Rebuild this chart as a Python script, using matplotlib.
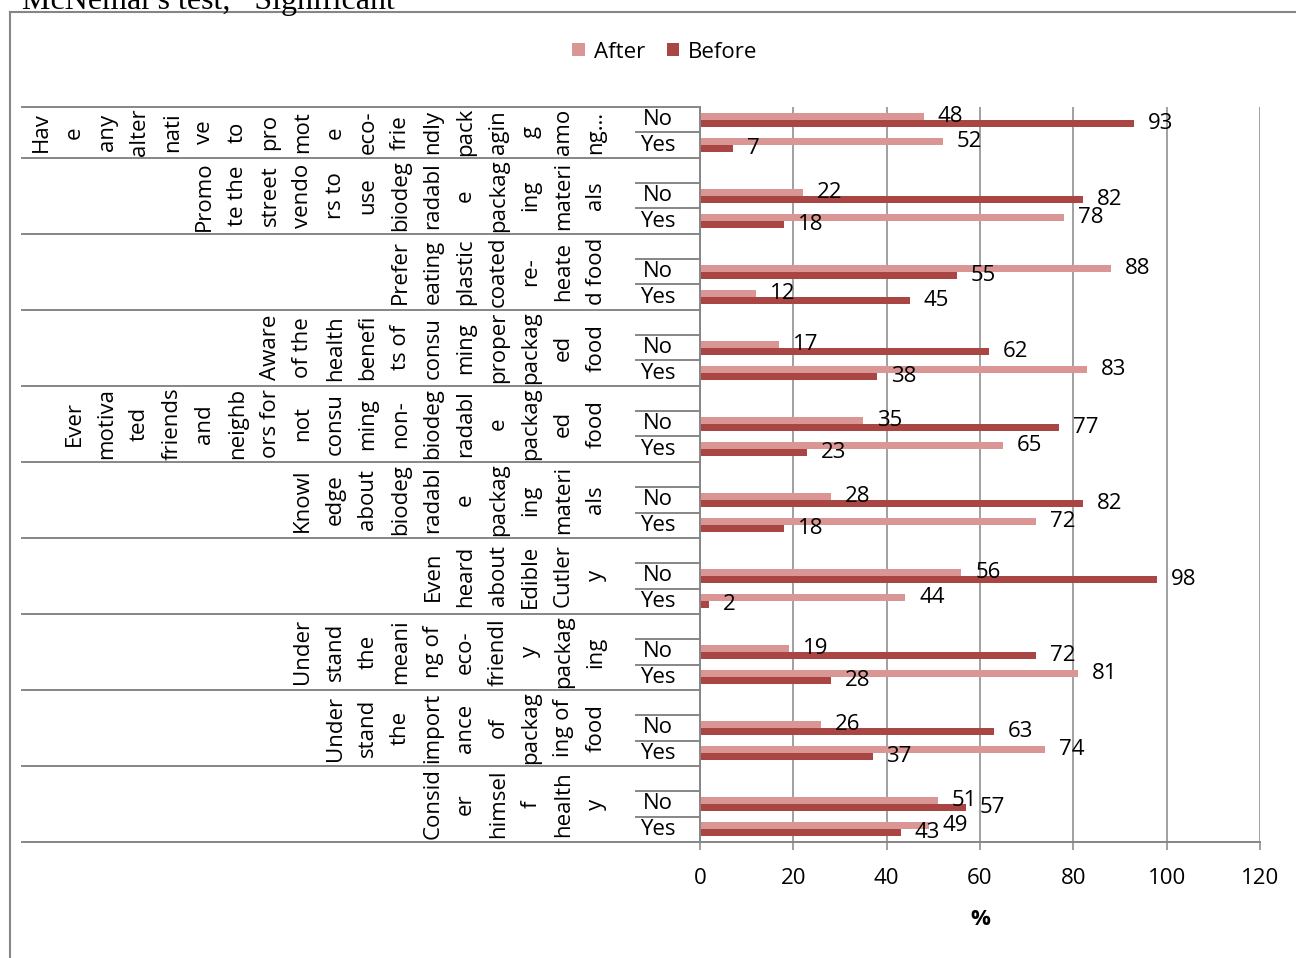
import matplotlib.pyplot as plt
import numpy as np
from matplotlib.lines import Line2D

# wrapped pieces of each question, as they sit in the narrow label columns
group_labels = [
    ["Hav", "e", "any", "alter", "nati", "ve", "to", "pro", "mot", "e", "eco-",
     "frie", "ndly", "pack", "agin", "g", "amo", "ng…"],
    ["Promo", "te the", "street", "vendo", "rs to", "use", "biodeg", "radabl",
     "e", "packag", "ing", "materi", "als"],
    ["Prefer", "eating", "plastic", "coated", "re-", "heate", "d food"],
    ["Aware", "of the", "health", "benefi", "ts of", "consu", "ming", "proper",
     "packag", "ed", "food"],
    ["Ever", "motiva", "ted", "friends", "and", "neighb", "ors for", "not",
     "consu", "ming", "non-", "biodeg", "radabl", "e", "packag", "ed", "food"],
    ["Knowl", "edge", "about", "biodeg", "radabl", "e", "packag", "ing",
     "materi", "als"],
    ["Even", "heard", "about", "Edible", "Cutler", "y"],
    ["Under", "stand", "the", "meani", "ng of", "eco-", "friendl", "y",
     "packag", "ing"],
    ["Under", "stand", "the", "import", "ance", "of", "packag", "ing of", "food"],
    ["Consid", "er", "himsel", "f", "health", "y"],
]
answers = ["No", "Yes"]

after_no = [48, 22, 88, 17, 35, 28, 56, 19, 26, 51]
after_yes = [52, 78, 12, 83, 65, 72, 44, 81, 74, 49]
before_no = [93, 82, 55, 62, 77, 82, 98, 72, 63, 57]
before_yes = [7, 18, 45, 38, 23, 18, 2, 28, 37, 43]

light = "#D99694"
dark = "#A94643"
grid_c = "#868686"

plt.rcParams["font.family"] = ["Open Sans", "DejaVu Sans"]
fs = 16

W, H = 1296, 958
fig = plt.figure(figsize=(W / 100, H / 100), dpi=100)
ax = fig.add_axes([700 / W, 116 / H, 560 / W, 735 / H])

# first question has no spacer row, the others have one blank row on top
no_rows = np.array([0] + [3 + 3 * k for k in range(9)])
yes_rows = no_rows + 1
n_rows = yes_rows[-1] + 1

bh = 0.28
off = 0.14
bars = []
bars.append(ax.barh(no_rows - off, after_no, height=bh, color=light, label="After"))
bars.append(ax.barh(no_rows + off, before_no, height=bh, color=dark, label="Before"))
bars.append(ax.barh(yes_rows - off, after_yes, height=bh, color=light))
bars.append(ax.barh(yes_rows + off, before_yes, height=bh, color=dark))

for b in bars:
    for r in b:
        v = r.get_width()
        ax.annotate(f"{v:g}", xy=(v, r.get_y() + r.get_height() / 2),
                    xytext=(10, 0), textcoords="offset points",
                    ha="left", va="center", fontsize=fs)

ax.set_xlim(0, 120)
ax.set_ylim(n_rows - 0.5, -0.5)
ax.set_xticks(np.arange(0, 121, 20))
ax.set_yticks([])
ax.tick_params(axis="x", labelsize=fs, length=6, width=1.1, color=grid_c, pad=13)
ax.set_xlabel("%", fontsize=fs, fontweight="bold", labelpad=14)
ax.grid(axis="x", color=grid_c, lw=1.1)
ax.set_axisbelow(True)
for s in ["top", "right"]:
    ax.spines[s].set_visible(False)
for s in ["left", "bottom"]:
    ax.spines[s].set_color(grid_c)
    ax.spines[s].set_linewidth(1.4)

# category table on the left of the axis
trans = ax.get_yaxis_transform()
x_far = (22 - 700) / 560
x_near = (636 - 700) / 560
bounds = [-0.5, 1.5] + [1.5 + 3 * (k + 1) for k in range(9)]
for yb in bounds:
    ax.add_line(Line2D([x_far, 0], [yb, yb], transform=trans, color=grid_c,
                       lw=1.4, clip_on=False))
for yn in no_rows:
    inner = [yn + 0.5] if yn == 0 else [yn - 0.5, yn + 0.5]
    for yb in inner:
        ax.add_line(Line2D([x_near, 0], [yb, yb], transform=trans,
                           color=grid_c, lw=1.4, clip_on=False))

x_ans = (658 - 700) / 560
for yn, yy in zip(no_rows, yes_rows):
    ax.text(x_ans, yn, answers[0], transform=trans, ha="center", va="center",
            fontsize=fs)
    ax.text(x_ans, yy, answers[1], transform=trans, ha="center", va="center",
            fontsize=fs)

col_w = 32.6
for g, pieces in enumerate(group_labels):
    yc = 0.5 if g == 0 else no_rows[g]
    n = len(pieces)
    for j, p in enumerate(pieces):
        xp = 596 - col_w * (n - 1 - j)
        ax.text((xp - 700) / 560, yc, p, transform=trans, rotation=90,
                ha="center", va="center", fontsize=fs)

fig.legend(loc="center", bbox_to_anchor=(665 / W, 1 - 52 / H), ncol=2,
           frameon=False, fontsize=fs, handlelength=0.55, handleheight=0.55,
           handletextpad=0.4, columnspacing=1.0)

# outer chart frame, partly cut by the page edges
fig.add_artist(Line2D([10 / W, 10 / W], [0, 1 - 12 / H], transform=fig.transFigure,
                      color=grid_c, lw=1.5))
fig.add_artist(Line2D([10 / W, 1], [1 - 12 / H, 1 - 12 / H], transform=fig.transFigure,
                      color=grid_c, lw=1.5))

fig.text(22 / W, 1 - 9 / H, "McNemar's test, *Significant", family="Liberation Serif",
         fontsize=23, ha="left", va="baseline")

fig.savefig("out.png", dpi=100)
